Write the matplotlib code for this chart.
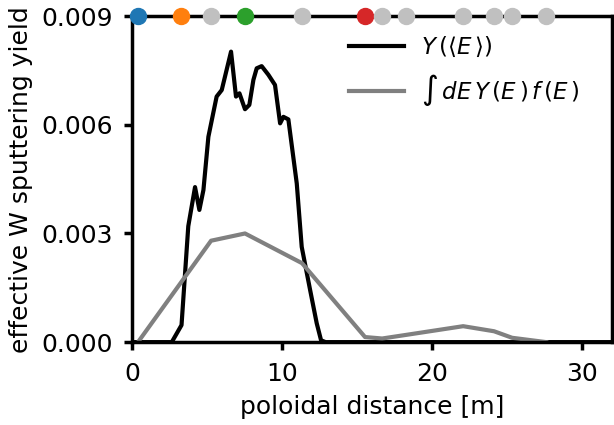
import matplotlib
matplotlib.use("Agg")
import matplotlib.pyplot as plt

# poloidal positions of the markers on the top axis [m]
marker_x = [0.4, 3.27, 5.27, 7.53, 11.33, 15.53, 16.67, 18.27, 22.07, 24.13, 25.33, 27.6]
marker_colors = ["C0", "C1", "silver", "C2", "silver", "C3",
                 "silver", "silver", "silver", "silver", "silver", "silver"]

# yield at mean energy
dist_mean = [0.0, 2.65, 3.3, 3.75, 4.2, 4.49, 4.76, 5.09, 5.64, 5.98, 6.6, 6.93,
             7.16, 7.53, 7.82, 8.09, 8.31, 8.64, 9.09, 9.53, 9.87, 10.09, 10.42,
             10.98, 11.31, 11.87, 12.31, 12.6, 12.9, 32.0]
yield_mean = [0.0, 0.0, 0.00047, 0.0032, 0.00428, 0.00365, 0.0042, 0.00567,
              0.00678, 0.00696, 0.00802, 0.00678, 0.00687, 0.00643, 0.00655,
              0.00724, 0.00756, 0.00762, 0.00738, 0.0071, 0.00604, 0.00622,
              0.00615, 0.00438, 0.00263, 0.00144, 0.00052, 0.00005, 0.0, 0.0]

# yield integrated over energy distribution
dist_int = marker_x
yield_int = [0.0, 0.00165, 0.0028, 0.0030, 0.00218, 0.00014, 0.0001, 0.0002,
             0.00044, 0.0003, 0.00012, 0.0]

plt.rcParams["font.size"] = 18

fig = plt.figure(figsize=(6.14, 4.25), dpi=100)
ax = fig.add_axes([0.215, 0.195, 0.782, 0.767])

ax.plot(dist_mean, yield_mean, color="black", lw=3, label=r"$Y\,(\langle E\,\rangle)$")
ax.plot(dist_int, yield_int, color="gray", lw=3,
        label=r"$\int\, dE\, Y\,(E\,)\, f\,(E\,)$")

for x, c in zip(marker_x, marker_colors):
    ax.plot(x, 0.009, "o", color=c, ms=11.5, clip_on=False, zorder=5)

ax.set_xlim(0, 32)
ax.set_ylim(0, 0.009)
ax.set_xticks([0, 10, 20, 30])
ax.set_yticks([0, 0.003, 0.006, 0.009])
ax.set_xlabel("poloidal distance [m]", labelpad=7)
ax.set_ylabel("effective W sputtering yield", labelpad=6)

for s in ax.spines.values():
    s.set_linewidth(2.5)
ax.tick_params(width=2.5, length=6, pad=8)

ax.legend(loc="upper left", frameon=False, bbox_to_anchor=(0.41, 1.005),
          handlelength=2.4, handletextpad=0.7, labelspacing=0.55, fontsize=16.5)

fig.savefig("out.png", dpi=100)
